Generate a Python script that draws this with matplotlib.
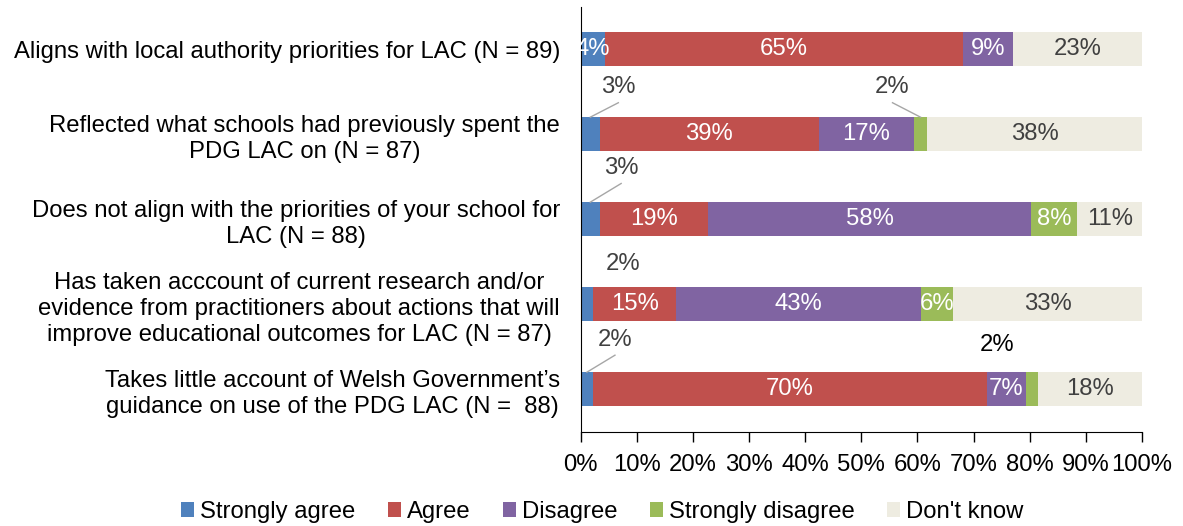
import matplotlib
matplotlib.use("Agg")
import matplotlib.pyplot as plt
from matplotlib.patches import Patch
import numpy as np

plt.rcParams["font.family"] = ["Liberation Sans", "DejaVu Sans"]

# ---------------------------------------------------------------- data
categories = [
    "Aligns with local authority priorities for LAC (N = 89)",
    "Reflected what schools had previously spent the\nPDG LAC on (N = 87)",
    "Does not align with the priorities of your school for\nLAC (N = 88)",
    "Has taken acccount of current research and/or\nevidence from practitioners about actions that will\nimprove educational outcomes for LAC (N = 87)",
    "Takes little account of Welsh Government\u2019s\nguidance on use of the PDG LAC (N =  88)",
]
series_names = ["Strongly agree", "Agree", "Disagree", "Strongly disagree", "Don't know"]
strongly_agree = [4.4, 3.4, 3.4, 2.2, 2.2]
agree = [63.7, 39.0, 19.3, 14.8, 70.2]
disagree = [9.0, 17.0, 57.6, 43.6, 6.9]
strongly_disagree = [0.0, 2.3, 8.2, 5.8, 2.2]
dont_know = [22.9, 38.3, 11.5, 33.6, 18.5]

sa_labels = ["4%", "3%", "3%", "2%", "2%"]
a_labels = ["65%", "39%", "19%", "15%", "70%"]
d_labels = ["9%", "17%", "58%", "43%", "7%"]
sd_labels = ["", "2%", "8%", "6%", "2%"]
dk_labels = ["23%", "38%", "11%", "33%", "18%"]

xticks = [0, 10, 20, 30, 40, 50, 60, 70, 80, 90, 100]

# ---------------------------------------------------------------- style
colors = ["#4F81BD", "#C0504D", "#8064A2", "#9BBB59", "#EEECE1"]
text_colors = ["white", "white", "white", "white", "#404040"]
FS = 17.2

series = [strongly_agree, agree, disagree, strongly_disagree, dont_know]
labels = [sa_labels, a_labels, d_labels, sd_labels, dk_labels]
# segments too narrow for an inside label: (series index, row) -> (dx, dy, leader, color)
outside = {
    (0, 1): (0.05, -0.55, True, "#404040"),
    (3, 1): (-0.05, -0.55, True, "#404040"),
    (0, 2): (0.055, -0.6, True, "#404040"),
    (0, 3): (0.065, -0.47, False, "#404040"),
    (0, 4): (0.05, -0.58, True, "#404040"),
    (3, 4): (-0.062, -0.52, False, "black"),
}

fig = plt.figure(figsize=(11.83, 5.26), dpi=100)
ax = fig.add_axes([0.4909, 0.1793, 0.9653 - 0.4909, 0.9873 - 0.1793])

y = np.arange(len(categories))
left = np.zeros(len(categories))
for i, vals in enumerate(series):
    vals = np.array(vals)
    ax.barh(y, vals, left=left, height=0.4, color=colors[i], label=series_names[i])
    for r in range(len(categories)):
        txt = labels[i][r]
        if not txt:
            continue
        cx = left[r] + vals[r] / 2
        if (i, r) in outside:
            dx, dy, leader, col = outside[(i, r)]
            tx = cx + dx * 100
            ty = r + dy
            ax.text(tx, ty, txt, ha="center", va="center", fontsize=FS, color=col)
            if leader:
                ax.plot([cx, tx], [r - 0.2, ty + 0.18], color="#A6A6A6", lw=1.0)
        else:
            ax.text(cx, r, txt, ha="center", va="center", fontsize=FS, color=text_colors[i])
    left = left + vals

ax.set_xlim(0, 100)
ax.set_ylim(len(categories) - 0.5, -0.5)
ax.set_xticks(xticks)
ax.set_xticklabels([f"{t}%" for t in xticks], fontsize=FS)
ax.set_yticks(y)
ax.set_yticklabels(categories, fontsize=FS, ma="center", linespacing=1.25)
ax.tick_params(axis="y", length=0, pad=15)
ax.tick_params(axis="x", length=7, width=1, color="black", pad=9)
for s in ["top", "right"]:
    ax.spines[s].set_visible(False)
ax.spines["left"].set_color("black")
ax.spines["bottom"].set_color("black")

handles = [Patch(facecolor=c, edgecolor="none") for c in colors]
fig.legend(handles, series_names, loc="center", bbox_to_anchor=(0.509, 0.027), ncol=5,
           frameon=False, fontsize=FS, handlelength=0.55, handleheight=0.55,
           handletextpad=0.25, columnspacing=1.35)

fig.savefig("out.png", dpi=100)
